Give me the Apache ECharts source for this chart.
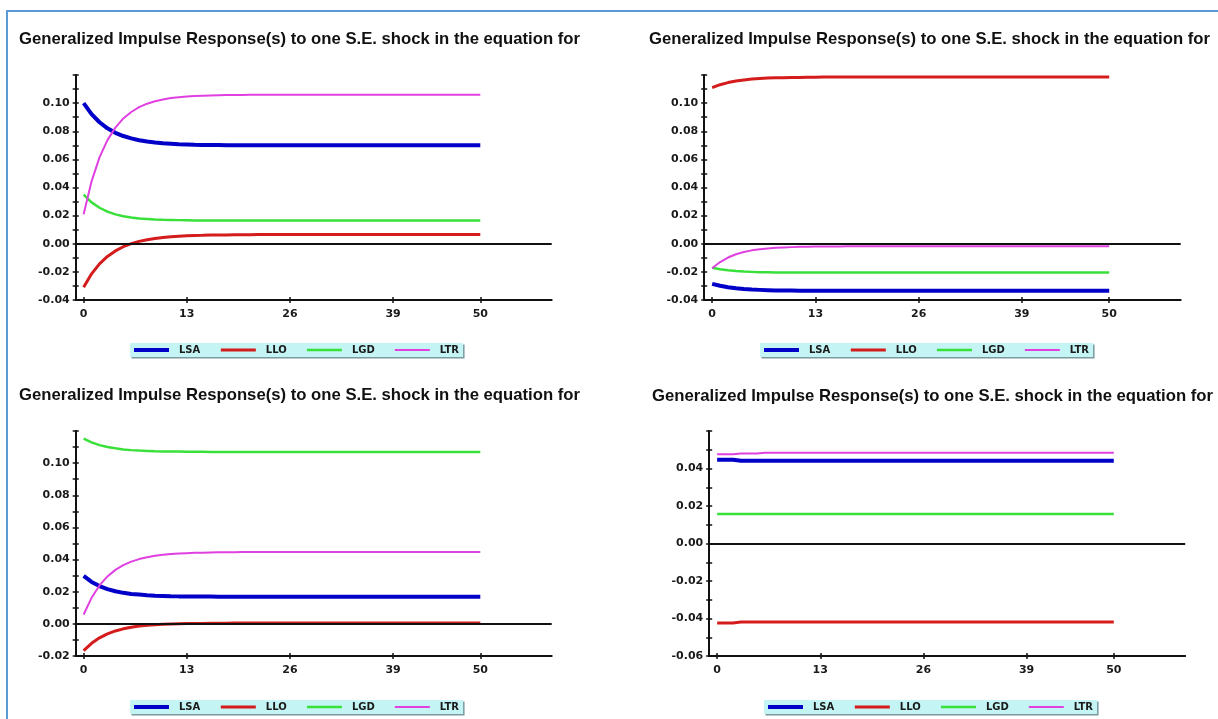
<!DOCTYPE html>
<html>
<head>
<meta charset="utf-8">
<title>Generalized Impulse Responses</title>
<script src="https://cdn.jsdelivr.net/npm/echarts@6/dist/echarts.min.js"></script>
<style>
  html, body { margin: 0; padding: 0; background: #fff; }
  #frame { position: absolute; left: 6px; top: 10px; width: 1212px; height: 709px; border-top: 2px solid #5b9bd5; border-left: 2px solid #5b9bd5; }
  #chart { position: absolute; left: 0; top: 0; width: 1218px; height: 719px; }
</style>
</head>
<body>
<div id="frame"></div>
<div id="chart"></div>
<script>
    // variable names and x axis labels
    const names = ['LSA', 'LLO', 'LGD', 'LTR']
    const xTicks = [0, 13, 26, 39, 50]
    const titleText = 'Generalized Impulse Response(s) to one S.E. shock in the equation for'

    // panel 1 (top left), horizons 0..50
    const lsa1 = [0.1000, 0.0922, 0.0864, 0.0821, 0.0789, 0.0766, 0.0749, 0.0736, 0.0727, 0.0720, 0.0714, 0.0711, 0.0708, 0.0706, 0.0704, 0.0703, 0.0702, 0.0702, 0.0701, 0.0701, 0.0701, 0.0701, 0.0700, 0.0700, 0.0700, 0.0700, 0.0700, 0.0700, 0.0700, 0.0700, 0.0700, 0.0700, 0.0700, 0.0700, 0.0700, 0.0700, 0.0700, 0.0700, 0.0700, 0.0700, 0.0700, 0.0700, 0.0700, 0.0700, 0.0700, 0.0700, 0.0700, 0.0700, 0.0700, 0.0700, 0.0700]
    const llo1 = [-0.0310, -0.0214, -0.0143, -0.0090, -0.0051, -0.0021, 0.0001, 0.0017, 0.0029, 0.0038, 0.0045, 0.0050, 0.0054, 0.0057, 0.0059, 0.0060, 0.0062, 0.0062, 0.0063, 0.0064, 0.0064, 0.0064, 0.0065, 0.0065, 0.0065, 0.0065, 0.0065, 0.0065, 0.0065, 0.0065, 0.0065, 0.0065, 0.0065, 0.0065, 0.0065, 0.0065, 0.0065, 0.0065, 0.0065, 0.0065, 0.0065, 0.0065, 0.0065, 0.0065, 0.0065, 0.0065, 0.0065, 0.0065, 0.0065, 0.0065, 0.0065]
    const lgd1 = [0.0350, 0.0294, 0.0256, 0.0228, 0.0209, 0.0196, 0.0187, 0.0180, 0.0176, 0.0172, 0.0170, 0.0169, 0.0168, 0.0167, 0.0166, 0.0166, 0.0165, 0.0165, 0.0165, 0.0165, 0.0165, 0.0165, 0.0165, 0.0165, 0.0165, 0.0165, 0.0165, 0.0165, 0.0165, 0.0165, 0.0165, 0.0165, 0.0165, 0.0165, 0.0165, 0.0165, 0.0165, 0.0165, 0.0165, 0.0165, 0.0165, 0.0165, 0.0165, 0.0165, 0.0165, 0.0165, 0.0165, 0.0165, 0.0165, 0.0165, 0.0165]
    const ltr1 = [0.0210, 0.0444, 0.0614, 0.0737, 0.0826, 0.0891, 0.0937, 0.0971, 0.0996, 0.1013, 0.1026, 0.1036, 0.1042, 0.1047, 0.1051, 0.1053, 0.1055, 0.1056, 0.1057, 0.1058, 0.1058, 0.1059, 0.1059, 0.1060, 0.1060, 0.1060, 0.1060, 0.1060, 0.1060, 0.1060, 0.1060, 0.1060, 0.1060, 0.1060, 0.1060, 0.1060, 0.1060, 0.1060, 0.1060, 0.1060, 0.1060, 0.1060, 0.1060, 0.1060, 0.1060, 0.1060, 0.1060, 0.1060, 0.1060, 0.1060, 0.1060]

    // panel 2 (top right)
    const lsa2 = [-0.0285, -0.0299, -0.0309, -0.0317, -0.0322, -0.0326, -0.0328, -0.0330, -0.0332, -0.0333, -0.0333, -0.0334, -0.0334, -0.0334, -0.0335, -0.0335, -0.0335, -0.0335, -0.0335, -0.0335, -0.0335, -0.0335, -0.0335, -0.0335, -0.0335, -0.0335, -0.0335, -0.0335, -0.0335, -0.0335, -0.0335, -0.0335, -0.0335, -0.0335, -0.0335, -0.0335, -0.0335, -0.0335, -0.0335, -0.0335, -0.0335, -0.0335, -0.0335, -0.0335, -0.0335, -0.0335, -0.0335, -0.0335, -0.0335, -0.0335, -0.0335]
    const llo2 = [0.1110, 0.1131, 0.1146, 0.1157, 0.1165, 0.1171, 0.1175, 0.1178, 0.1180, 0.1181, 0.1182, 0.1183, 0.1184, 0.1184, 0.1185, 0.1185, 0.1185, 0.1185, 0.1185, 0.1185, 0.1185, 0.1185, 0.1185, 0.1185, 0.1185, 0.1185, 0.1185, 0.1185, 0.1185, 0.1185, 0.1185, 0.1185, 0.1185, 0.1185, 0.1185, 0.1185, 0.1185, 0.1185, 0.1185, 0.1185, 0.1185, 0.1185, 0.1185, 0.1185, 0.1185, 0.1185, 0.1185, 0.1185, 0.1185, 0.1185, 0.1185]
    const lgd2 = [-0.0170, -0.0182, -0.0189, -0.0194, -0.0198, -0.0200, -0.0202, -0.0203, -0.0204, -0.0204, -0.0205, -0.0205, -0.0205, -0.0205, -0.0205, -0.0205, -0.0205, -0.0205, -0.0205, -0.0205, -0.0205, -0.0205, -0.0205, -0.0205, -0.0205, -0.0205, -0.0205, -0.0205, -0.0205, -0.0205, -0.0205, -0.0205, -0.0205, -0.0205, -0.0205, -0.0205, -0.0205, -0.0205, -0.0205, -0.0205, -0.0205, -0.0205, -0.0205, -0.0205, -0.0205, -0.0205, -0.0205, -0.0205, -0.0205, -0.0205, -0.0205]
    const ltr2 = [-0.0174, -0.0130, -0.0098, -0.0075, -0.0059, -0.0047, -0.0039, -0.0033, -0.0029, -0.0026, -0.0024, -0.0022, -0.0021, -0.0020, -0.0019, -0.0019, -0.0019, -0.0018, -0.0018, -0.0018, -0.0018, -0.0018, -0.0018, -0.0018, -0.0018, -0.0018, -0.0018, -0.0018, -0.0018, -0.0018, -0.0018, -0.0018, -0.0018, -0.0018, -0.0018, -0.0018, -0.0018, -0.0018, -0.0018, -0.0018, -0.0018, -0.0018, -0.0018, -0.0018, -0.0018, -0.0018, -0.0018, -0.0018, -0.0018, -0.0018, -0.0018]

    // panel 3 (bottom left)
    const lsa3 = [0.0298, 0.0261, 0.0235, 0.0216, 0.0203, 0.0193, 0.0186, 0.0182, 0.0178, 0.0175, 0.0174, 0.0172, 0.0171, 0.0171, 0.0170, 0.0170, 0.0170, 0.0169, 0.0169, 0.0169, 0.0169, 0.0169, 0.0169, 0.0169, 0.0169, 0.0169, 0.0169, 0.0169, 0.0169, 0.0169, 0.0169, 0.0169, 0.0169, 0.0169, 0.0169, 0.0169, 0.0169, 0.0169, 0.0169, 0.0169, 0.0169, 0.0169, 0.0169, 0.0169, 0.0169, 0.0169, 0.0169, 0.0169, 0.0169, 0.0169, 0.0169]
    const llo3 = [-0.0167, -0.0121, -0.0087, -0.0062, -0.0044, -0.0031, -0.0021, -0.0014, -0.0009, -0.0005, -0.0003, -0.0001, 0.0001, 0.0002, 0.0003, 0.0003, 0.0004, 0.0004, 0.0004, 0.0005, 0.0005, 0.0005, 0.0005, 0.0005, 0.0005, 0.0005, 0.0005, 0.0005, 0.0005, 0.0005, 0.0005, 0.0005, 0.0005, 0.0005, 0.0005, 0.0005, 0.0005, 0.0005, 0.0005, 0.0005, 0.0005, 0.0005, 0.0005, 0.0005, 0.0005, 0.0005, 0.0005, 0.0005, 0.0005, 0.0005, 0.0005]
    const lgd3 = [0.1152, 0.1129, 0.1112, 0.1100, 0.1092, 0.1085, 0.1081, 0.1078, 0.1076, 0.1074, 0.1073, 0.1072, 0.1072, 0.1071, 0.1071, 0.1071, 0.1070, 0.1070, 0.1070, 0.1070, 0.1070, 0.1070, 0.1070, 0.1070, 0.1070, 0.1070, 0.1070, 0.1070, 0.1070, 0.1070, 0.1070, 0.1070, 0.1070, 0.1070, 0.1070, 0.1070, 0.1070, 0.1070, 0.1070, 0.1070, 0.1070, 0.1070, 0.1070, 0.1070, 0.1070, 0.1070, 0.1070, 0.1070, 0.1070, 0.1070, 0.1070]
    const ltr3 = [0.0058, 0.0162, 0.0239, 0.0295, 0.0336, 0.0365, 0.0387, 0.0403, 0.0415, 0.0424, 0.0430, 0.0435, 0.0438, 0.0440, 0.0442, 0.0443, 0.0444, 0.0445, 0.0446, 0.0446, 0.0447, 0.0447, 0.0447, 0.0447, 0.0447, 0.0447, 0.0447, 0.0447, 0.0447, 0.0447, 0.0447, 0.0447, 0.0447, 0.0447, 0.0447, 0.0447, 0.0447, 0.0447, 0.0447, 0.0447, 0.0447, 0.0447, 0.0447, 0.0447, 0.0447, 0.0447, 0.0447, 0.0447, 0.0447, 0.0447, 0.0447]

    // panel 4 (bottom right)
    const lsa4 = [0.0447, 0.0447, 0.0447, 0.0441, 0.0441, 0.0441, 0.0441, 0.0441, 0.0441, 0.0441, 0.0441, 0.0441, 0.0441, 0.0441, 0.0441, 0.0441, 0.0441, 0.0441, 0.0441, 0.0441, 0.0441, 0.0441, 0.0441, 0.0441, 0.0441, 0.0441, 0.0441, 0.0441, 0.0441, 0.0441, 0.0441, 0.0441, 0.0441, 0.0441, 0.0441, 0.0441, 0.0441, 0.0441, 0.0441, 0.0441, 0.0441, 0.0441, 0.0441, 0.0441, 0.0441, 0.0441, 0.0441, 0.0441, 0.0441, 0.0441, 0.0441]
    const llo4 = [-0.0424, -0.0424, -0.0424, -0.0419, -0.0419, -0.0419, -0.0419, -0.0419, -0.0419, -0.0419, -0.0419, -0.0419, -0.0419, -0.0419, -0.0419, -0.0419, -0.0419, -0.0419, -0.0419, -0.0419, -0.0419, -0.0419, -0.0419, -0.0419, -0.0419, -0.0419, -0.0419, -0.0419, -0.0419, -0.0419, -0.0419, -0.0419, -0.0419, -0.0419, -0.0419, -0.0419, -0.0419, -0.0419, -0.0419, -0.0419, -0.0419, -0.0419, -0.0419, -0.0419, -0.0419, -0.0419, -0.0419, -0.0419, -0.0419, -0.0419, -0.0419]
    const lgd4 = [0.0157, 0.0157, 0.0157, 0.0157, 0.0157, 0.0157, 0.0157, 0.0157, 0.0157, 0.0157, 0.0157, 0.0157, 0.0157, 0.0157, 0.0157, 0.0157, 0.0157, 0.0157, 0.0157, 0.0157, 0.0157, 0.0157, 0.0157, 0.0157, 0.0157, 0.0157, 0.0157, 0.0157, 0.0157, 0.0157, 0.0157, 0.0157, 0.0157, 0.0157, 0.0157, 0.0157, 0.0157, 0.0157, 0.0157, 0.0157, 0.0157, 0.0157, 0.0157, 0.0157, 0.0157, 0.0157, 0.0157, 0.0157, 0.0157, 0.0157, 0.0157]
    const ltr4 = [0.0476, 0.0476, 0.0476, 0.0480, 0.0480, 0.0480, 0.0484, 0.0484, 0.0484, 0.0484, 0.0484, 0.0484, 0.0484, 0.0484, 0.0484, 0.0484, 0.0484, 0.0484, 0.0484, 0.0484, 0.0484, 0.0484, 0.0484, 0.0484, 0.0484, 0.0484, 0.0484, 0.0484, 0.0484, 0.0484, 0.0484, 0.0484, 0.0484, 0.0484, 0.0484, 0.0484, 0.0484, 0.0484, 0.0484, 0.0484, 0.0484, 0.0484, 0.0484, 0.0484, 0.0484, 0.0484, 0.0484, 0.0484, 0.0484, 0.0484, 0.0484]

    // look of each variable
    const colors = ['#0000c8', '#d41c1c', '#3ae03a', '#e040e0']
    const widths = [4, 3, 2.5, 2]

    // layout of the 4 panels
    const panels = [
        { data: [lsa1, llo1, lgd1, ltr1], yMin: -0.04, yMax: 0.12, grid: { left: 75.7, top: 75, width: 476, height: 225 }, title: { left: 19, top: 31 }, legend: { left: 130, top: 343 } },
        { data: [lsa2, llo2, lgd2, ltr2], yMin: -0.04, yMax: 0.12, grid: { left: 704.2, top: 75, width: 476.5, height: 225 }, title: { left: 649, top: 31 }, legend: { left: 760, top: 343 } },
        { data: [lsa3, llo3, lgd3, ltr3], yMin: -0.02, yMax: 0.12, grid: { left: 75.7, top: 431, width: 476, height: 225 }, title: { left: 19, top: 387 }, legend: { left: 130, top: 700 } },
        { data: [lsa4, llo4, lgd4, ltr4], yMin: -0.06, yMax: 0.06, grid: { left: 709.2, top: 431, width: 476, height: 225 }, title: { left: 652, top: 388 }, legend: { left: 764, top: 700 } }
    ]

    const labelFont = { color: '#1a1a1a', fontFamily: 'DejaVu Sans', fontWeight: 'bold', fontSize: 11 }
    const axisColor = '#111'

    const option = {
        animation: false,
        backgroundColor: 'transparent',
        title: [],
        legend: [],
        grid: [],
        xAxis: [],
        yAxis: [],
        series: []
    }

    panels.forEach((p, i) => {
        option.title.push({
            text: titleText,
            left: p.title.left,
            top: p.title.top,
            padding: 0,
            textStyle: { color: '#111', fontFamily: 'Liberation Sans', fontWeight: 'bold', fontSize: 16.7 }
        })
        option.legend.push({
            data: names.map((nm, j) => ({ name: nm, lineStyle: { width: widths[j], color: colors[j] } })),
            left: p.legend.left,
            top: p.legend.top,
            selectedMode: false,
            backgroundColor: '#c4f4f4',
            padding: [2, 4, 2, 2],
            itemGap: 19,
            itemWidth: 35,
            itemHeight: 10,
            itemStyle: { opacity: 0 },
            shadowColor: '#7a9aa0',
            shadowOffsetX: 1.5,
            shadowOffsetY: 1.5,
            shadowBlur: 0,
            textStyle: { color: '#1a1a1a', fontFamily: 'DejaVu Sans', fontWeight: 'bold', fontSize: 10, padding: [0, 0, 0, 5] }
        })
        option.grid.push(Object.assign({ outerBoundsMode: 'none' }, p.grid))
    })

    // main axes (outer ticks + labels), then a twin set only for the inner half of the ticks
    for (let k = 0; k < 2; k++) {
        panels.forEach((p, i) => {
            const inner = k === 1
            option.xAxis.push({
                type: 'value',
                gridIndex: i,
                position: 'bottom',
                min: -1,
                max: 59,
                axisLine: { show: !inner, onZero: false, lineStyle: { color: axisColor, width: 2 } },
                axisTick: { show: true, inside: inner, customValues: xTicks, length: 3, lineStyle: { color: axisColor, width: 1.5 } },
                axisLabel: Object.assign({ show: !inner, customValues: xTicks, margin: 9 }, labelFont),
                splitLine: { show: false }
            })
            option.yAxis.push({
                type: 'value',
                gridIndex: i,
                position: 'left',
                min: p.yMin,
                max: p.yMax,
                interval: 0.01,
                axisLine: { show: !inner, onZero: false, lineStyle: { color: axisColor, width: 2 } },
                axisTick: { show: true, inside: inner, length: 3, lineStyle: { color: axisColor, width: 1.5 } },
                axisLabel: Object.assign({
                    show: !inner,
                    margin: 6,
                    formatter: v => {
                        const t = Math.round(v * 100)
                        if (t % 2 !== 0 || v > p.yMax - 1e-9) return ''
                        return v.toFixed(2)
                    }
                }, labelFont),
                splitLine: { show: false }
            })
        })
    }

    panels.forEach((p, i) => {
        p.data.forEach((vals, j) => {
            const s = {
                type: 'line',
                name: names[j],
                xAxisIndex: i,
                yAxisIndex: i,
                data: vals.map((v, h) => [h, v]),
                symbol: 'none',
                showSymbol: false,
                silent: true,
                lineStyle: { color: colors[j], width: widths[j] },
                itemStyle: { color: colors[j] }
            }
            if (j === 0) {
                // black zero line
                s.markLine = {
                    silent: true,
                    symbol: 'none',
                    label: { show: false },
                    lineStyle: { color: axisColor, width: 2, type: 'solid' },
                    data: [{ yAxis: 0 }]
                }
            }
            option.series.push(s)
        })
    })

    const myChart = echarts.init(document.getElementById('chart'))
    myChart.setOption(option)
</script>
</body>
</html>
